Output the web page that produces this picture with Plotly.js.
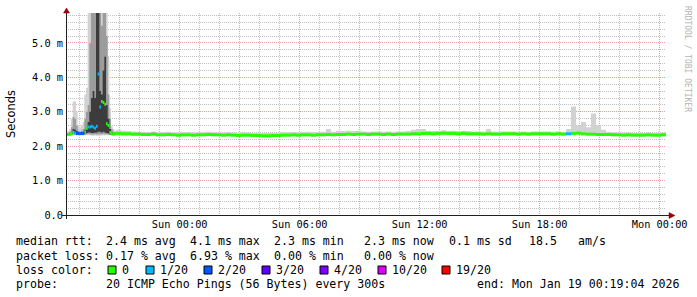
<!DOCTYPE html>
<html><head><meta charset="utf-8">
<script src="https://cdn.plot.ly/plotly-3.0.1.min.js"></script>
<style>html,body{margin:0;padding:0;background:#fff}#chart{width:697px;height:297px}</style>
</head><body><div id="chart"></div>
<script>
// ---------------- DATA ----------------
// First 150 minutes in 5-minute bins (spike region)
const spikeMed  = [2.34,2.34,2.35,2.37,2.40,2.38,2.37,2.37,2.37,2.37,2.37,2.41,2.52,2.56,2.56,2.58,2.55,2.52,2.58,4.10,3.14,3.30,3.27,3.22,2.65,2.60,2.40,2.36,2.35,2.36];
const spikeLoss = [0,0,0,0,0,1,2,2,2,2,2,0,0,1,1,1,1,1,1,1,1,0,0,0,0,0,0,0,0,0];
const spikeMin  = [2.30,2.30,2.31,2.31,2.32,2.32,2.31,2.31,2.31,2.31,2.31,2.32,2.32,2.32,2.31,2.30,2.30,2.31,2.30,2.30,2.31,2.31,2.32,2.31,2.32,2.32,2.31,2.31,2.30,2.31];
const spikeP10  = [2.32,2.32,2.33,2.33,2.34,2.34,2.33,2.33,2.33,2.33,2.33,2.34,2.35,2.36,2.35,2.34,2.34,2.35,2.34,2.35,2.35,2.35,2.36,2.35,2.35,2.34,2.33,2.33,2.32,2.33];
const spikeP25  = [2.33,2.33,2.34,2.35,2.36,2.36,2.35,2.35,2.35,2.35,2.35,2.36,2.38,2.40,2.40,2.38,2.38,2.40,2.40,2.42,2.42,2.40,2.42,2.40,2.38,2.37,2.35,2.34,2.34,2.34];
const spikeP75  = [2.36,2.36,2.38,2.42,2.50,2.48,2.44,2.40,2.40,2.40,2.42,2.48,2.56,2.70,3.00,3.40,3.60,3.40,6.50,6.50,3.60,3.50,4.20,4.60,3.20,2.80,2.50,2.40,2.37,2.36];
const spikeP90  = [2.38,2.39,2.42,2.55,2.85,2.80,2.60,2.45,2.42,2.45,2.50,2.80,3.00,3.20,5.00,6.50,6.50,6.00,6.50,6.50,6.50,5.50,6.50,6.00,5.20,3.50,2.80,2.50,2.42,2.40];
const spikeMax  = [2.42,2.44,2.50,2.80,3.30,3.30,3.00,2.60,2.55,2.60,2.70,3.50,3.70,6.50,6.50,6.50,6.50,6.50,6.50,6.50,6.50,6.50,6.50,6.50,6.50,4.60,3.10,2.60,2.50,2.45];
// Remaining 27.5 hours in 15-minute bins
const flatMed = [2.37,2.36,2.36,2.35,2.35,
 2.34,2.34,2.35,2.33,2.33,2.34,2.33,2.32,2.33,2.33,2.32,2.33,
 2.33,2.34,2.33,2.33,2.32,2.33,2.32,2.31,2.32,2.32,2.31,2.31,
 2.30,2.30,2.31,2.31,2.32,2.32,2.33,2.32,
 2.33,2.33,2.32,2.33,2.33,2.34,2.33,2.34,2.34,2.35,2.34,2.35,
 2.35,2.34,2.35,2.35,2.34,2.35,2.34,2.35,2.35,2.35,2.36,2.36,
 2.37,2.37,2.36,2.37,2.38,2.37,2.37,2.36,2.37,2.36,2.36,2.36,
 2.35,2.36,2.35,2.35,2.36,2.36,2.36,2.35,2.36,2.35,2.36,2.36,
 2.36,2.36,2.35,2.36,2.35,2.36,2.37,2.38,2.36,2.35,2.35,2.34,
 2.34,2.34,2.33,2.33,2.32,2.33,2.32,2.32,2.32,2.33,2.32,2.32,2.33];
const flatLoss = [0,0,0,0,0,
 0,0,0,0,0,0,0,0,0,0,0,0,
 0,0,0,0,0,0,0,0,0,0,0,0,
 0,0,0,0,0,0,0,0,
 0,0,0,0,0,0,0,0,0,0,0,0,
 0,0,0,0,0,0,0,0,0,0,0,0,
 0,0,0,0,0,0,0,0,0,0,0,0,
 0,0,0,0,0,0,0,0,0,0,0,0,
 0,0,0,0,0,1,0,0,0,0,0,0,
 0,0,0,0,0,0,0,0,0,0,0,0,0];
const flatMin = [2.31,2.31,2.31,2.30,2.30,
 2.30,2.30,2.30,2.29,2.29,2.30,2.29,2.28,2.29,2.29,2.28,2.29,
 2.29,2.30,2.29,2.29,2.28,2.29,2.28,2.27,2.28,2.28,2.27,2.27,
 2.26,2.26,2.27,2.27,2.28,2.28,2.29,2.28,
 2.29,2.29,2.28,2.29,2.29,2.30,2.29,2.30,2.30,2.31,2.30,2.31,
 2.31,2.30,2.31,2.31,2.30,2.31,2.30,2.31,2.31,2.31,2.32,2.32,
 2.33,2.33,2.32,2.33,2.34,2.33,2.33,2.32,2.33,2.32,2.32,2.32,
 2.31,2.32,2.31,2.31,2.32,2.32,2.32,2.31,2.32,2.31,2.32,2.32,
 2.32,2.32,2.31,2.32,2.31,2.32,2.32,2.33,2.32,2.31,2.31,2.30,
 2.30,2.30,2.29,2.29,2.28,2.29,2.28,2.28,2.28,2.29,2.28,2.28,2.29];
const flatMax = [2.47,2.45,2.44,2.43,2.42,
 2.42,2.41,2.43,2.40,2.41,2.42,2.40,2.40,2.41,2.41,2.40,2.41,
 2.41,2.42,2.41,2.40,2.40,2.41,2.40,2.39,2.40,2.40,2.39,2.39,
 2.38,2.38,2.39,2.40,2.41,2.41,2.41,2.40,
 2.41,2.42,2.41,2.41,2.42,2.50,2.42,2.45,2.44,2.45,2.44,2.45,
 2.43,2.42,2.43,2.43,2.42,2.43,2.42,2.43,2.43,2.44,2.48,2.50,
 2.50,2.45,2.44,2.45,2.46,2.45,2.45,2.44,2.45,2.44,2.43,2.43,
 2.43,2.50,2.43,2.42,2.43,2.43,2.43,2.42,2.43,2.42,2.43,2.43,
 2.43,2.43,2.42,2.43,2.42,2.50,3.15,2.60,2.70,2.55,2.95,2.60,
 2.48,2.42,2.41,2.40,2.40,2.40,2.39,2.39,2.39,2.40,2.39,2.39,2.40];

const lossLevels = [0, 1, 2, 3, 4, 10, 19];
const lossColors = ['#26ff00','#00b8ff','#0059ff','#5e00ff','#7e00ff','#dd00ff','#ff0000'];
const lossLabels = ['0','1/20','2/20','3/20','4/20','10/20','19/20'];

const yTickVals = [0, 1, 2, 3, 4, 5];
const yTickText = ['0.0', '1.0 m', '2.0 m', '3.0 m', '4.0 m', '5.0 m'];
const xTickVals = ['2026-01-17 21:00','2026-01-18 00:00','2026-01-18 03:00','2026-01-18 06:00','2026-01-18 09:00',
                   '2026-01-18 12:00','2026-01-18 15:00','2026-01-18 18:00','2026-01-18 21:00','2026-01-19 00:00'];
const xTickText = ['', 'Sun 00:00', '', 'Sun 06:00', '', 'Sun 12:00', '', 'Sun 18:00', '', 'Mon 00:00'];

const rttLine   = ['median rtt:', '2.4 ms avg', '4.1 ms max', '2.3 ms min', '2.3 ms now', '0.1 ms sd', '18.5', 'am/s'];
const lossLine  = ['packet loss:', '0.17 % avg', '6.93 % max', '0.00 % min', '0.00 % now'];
const probeLine = ['probe:', '20 ICMP Echo Pings (56 Bytes) every 300s', 'end: Mon Jan 19 00:19:04 2026'];

// ---------------- BUILD ----------------
const startTime = Date.UTC(2026,0,17,18,19,4);
const endTime   = Date.UTC(2026,0,19,0,19,4);
const MINUTE = 60000;
const binStart = [];
for (let i = 0; i < spikeMed.length; i++) binStart.push(startTime + i*5*MINUTE);
const flatStart = startTime + spikeMed.length*5*MINUTE;
for (let j = 0; j < flatMed.length; j++) binStart.push(flatStart + j*15*MINUTE);
const binEnd = binStart.slice(1).concat([endTime]);

const med  = spikeMed.concat(flatMed);
const loss = spikeLoss.concat(flatLoss);
const allMin = spikeMin.concat(flatMin);
const allMax = spikeMax.concat(flatMax);

function stepXY(vals) {
  const x = [], y = [];
  for (let i = 0; i < vals.length; i++) { x.push(binStart[i]); y.push(vals[i]); }
  x.push(binEnd[vals.length-1]); y.push(vals[vals.length-1]);
  return {x, y};
}
function band(lo, hi, color) {
  const a = stepXY(lo), b = stepXY(hi);
  return [
    {x:a.x, y:a.y, type:'scatter', mode:'lines', line:{width:0, shape:'hv'}, hoverinfo:'skip', showlegend:false},
    {x:b.x, y:b.y, type:'scatter', mode:'lines', line:{width:0, shape:'hv'}, fill:'tonexty', fillcolor:color, hoverinfo:'skip', showlegend:false}
  ];
}
function levelIndex(l) { let k = 0; for (let i = 0; i < lossLevels.length; i++) if (l >= lossLevels[i]) k = i; return k; }

const traces = [];
traces.push(...band(allMin, allMax, '#d2d2d2'));
traces.push(...band(spikeP10, spikeP90, '#9c9c9c'));
traces.push(...band(spikeP25, spikeP75, '#3c3c3c'));

// median: one short horizontal segment per bin, coloured by loss
for (let k = 0; k < lossLevels.length; k++) {
  const x = [], y = [];
  for (let i = 0; i < med.length; i++) {
    if (levelIndex(loss[i]) !== k) continue;
    x.push(binStart[i], binEnd[i], null);
    y.push(med[i], med[i], null);
  }
  if (x.length) traces.push({x, y, type:'scatter', mode:'lines', line:{color:lossColors[k], width:3}, hoverinfo:'skip', showlegend:false});
}

// ---------------- LAYOUT ----------------
const L = 66, W = 600, T = 13, H = 202;
const px = p => (p - L) / W;
const py = p => (T + H - p) / H;
const MONO = 'DejaVu Sans Mono';
const MAJOR = '#e8a0a0', MINOR = '#c0c0c0';
const AXIS = '#202020', ARROW = '#990000';

const ann = [];
function txt(x, y, s, size, extra) {
  ann.push(Object.assign({xref:'paper', yref:'paper', x:px(x), y:py(y), text:s.replace(/ /g,'\u00a0'),
    showarrow:false, xanchor:'left', yanchor:'middle', borderpad:0, borderwidth:0,
    font:{family:MONO, size:size || 11.6, color:'#000'}}, extra || {}));
}
const rttX = [16, 106, 190, 274, 364, 449, 529, 578];
rttLine.forEach((s, i) => txt(rttX[i], 241.5, s));
const lossX = [16, 106, 190, 274, 364];
lossLine.forEach((s, i) => txt(lossX[i], 255.5, s));
txt(16, 269.5, 'loss color:');
const sqX = [108, 146, 204, 262, 320, 378, 442];
const shapes = [];
lossLabels.forEach((s, i) => {
  shapes.push({type:'rect', xref:'paper', yref:'paper', x0:px(sqX[i]), x1:px(sqX[i]+8), y0:py(274), y1:py(266),
    fillcolor:lossColors[i], line:{color:'#000', width:1}});
  txt(sqX[i] + 14, 269.5, s);
});
const probeX = [16, 106, 477];
probeLine.forEach((s, i) => txt(probeX[i], 283.5, s));

ann.push({xref:'paper', yref:'paper', x:px(11), y:py(114), text:'Seconds', textangle:-90, showarrow:false,
  xanchor:'center', yanchor:'middle', font:{family:'DejaVu Sans', size:11.4, color:'#000'}});
ann.push({xref:'paper', yref:'paper', x:px(687), y:py(59), text:'RRDTOOL / TOBI OETIKER'.replace(/ /g,'\u00a0'), textangle:90, showarrow:false,
  xanchor:'center', yanchor:'middle', font:{family:MONO, size:8, color:'#b4b4b4'}});

// axis lines and arrows
shapes.push({type:'line', xref:'paper', yref:'paper', x0:px(62), x1:px(670), y0:py(215.5), y1:py(215.5), line:{color:AXIS, width:1}});
shapes.push({type:'line', xref:'paper', yref:'paper', x0:px(66.5), x1:px(66.5), y0:py(219), y1:py(11), line:{color:AXIS, width:1}});
shapes.push({type:'path', xref:'paper', yref:'paper', fillcolor:ARROW, line:{color:ARROW, width:0.5},
  path:'M'+px(63.5)+','+py(13)+' L'+px(69.5)+','+py(13)+' L'+px(66.5)+','+py(8)+' Z'});
shapes.push({type:'path', xref:'paper', yref:'paper', fillcolor:ARROW, line:{color:ARROW, width:0.5},
  path:'M'+px(669)+','+py(212.5)+' L'+px(669)+','+py(218.5)+' L'+px(675)+','+py(215.5)+' Z'});

const layout = {
  width:697, height:297, margin:{l:L, r:697-L-W, t:T, b:297-T-H}, paper_bgcolor:'#ffffff', plot_bgcolor:'#ffffff',
  showlegend:false,
  xaxis:{type:'date', range:[startTime, endTime], tickmode:'array', tickvals:xTickVals, ticktext:xTickText,
    showgrid:true, gridcolor:MAJOR, griddash:'1px,1px', gridwidth:1, zeroline:false, showline:false, ticks:'',
    ticklabelstandoff:2,
    tickfont:{family:MONO, size:10.3, color:'#000'}, fixedrange:true,
    minor:{tickmode:'linear', tick0:'2026-01-18 00:00', dtick:3600000, showgrid:true, gridcolor:MINOR, griddash:'1px,1px', gridwidth:1, ticks:''}},
  yaxis:{range:[0, 5.87], tickmode:'array', tickvals:yTickVals, ticktext:yTickText,
    showgrid:true, gridcolor:MAJOR, griddash:'1px,1px', gridwidth:1, zeroline:false, showline:false, ticks:'',
    ticklabelstandoff:2,
    tickfont:{family:MONO, size:10.3, color:'#000'}, fixedrange:true,
    minor:{tickmode:'linear', tick0:0, dtick:0.2, showgrid:true, gridcolor:MINOR, griddash:'1px,1px', gridwidth:1, ticks:''}},
  shapes:shapes, annotations:ann
};
Plotly.newPlot('chart', traces, layout, {staticPlot:true, displayModeBar:false});
</script></body></html>
